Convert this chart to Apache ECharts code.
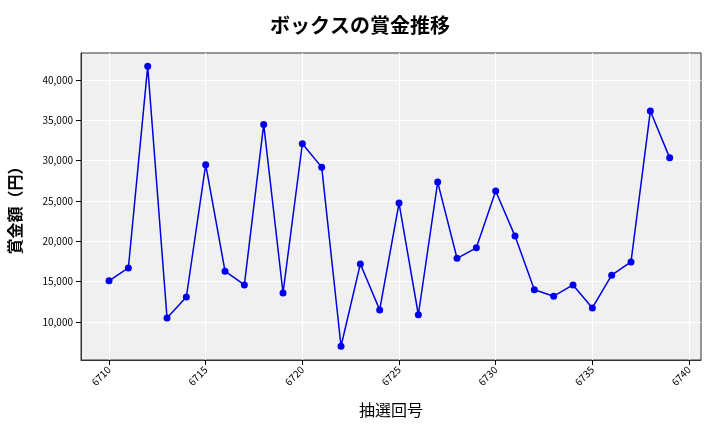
<!DOCTYPE html>
<html><head><meta charset="utf-8">
<script src="https://cdn.jsdelivr.net/npm/echarts@6/dist/echarts.min.js"></script>
<style>html,body{margin:0;padding:0;background:#fff}#c{width:720px;height:432px}</style>
</head><body><div id="c"></div>
<script>
const draws = [6710,6711,6712,6713,6714,6715,6716,6717,6718,6719,6720,6721,6722,6723,6724,6725,6726,6727,6728,6729,6730,6731,6732,6733,6734,6735,6736,6737,6738,6739];
const prizes = [15100,16700,41700,10500,13100,29500,16300,14600,34500,13600,32100,29200,7000,17200,11500,24750,10900,27350,17900,19200,26250,20650,14000,13200,14600,11750,15800,17450,36150,30350];
const xTicks = [6710,6715,6720,6725,6730,6735,6740];
const yTicks = [10000,15000,20000,25000,30000,35000,40000];
const font = '"Noto Sans CJK JP", "Noto Sans", sans-serif';
const chart = echarts.init(document.getElementById('c'));
chart.setOption({
  animation:false,
  title:{text:'ボックスの賞金推移',left:'center',top:10,textStyle:{fontFamily:font,fontSize:20,fontWeight:'bold',color:'#000'}},
  grid:{left:81,right:19,top:53,bottom:72,backgroundColor:'#f0f0f0',show:true,borderWidth:1,borderColor:'#333',containLabel:false,outerBoundsMode:'none'},
  xAxis:{type:'value',min:6708.55,max:6740.62,name:'抽選回号',nameLocation:'middle',nameGap:42,
    nameTextStyle:{fontFamily:font,fontSize:16,color:'#000'},
    axisLine:{show:true,lineStyle:{color:'#333'}},
    axisTick:{show:true,customValues:xTicks,lineStyle:{color:'#000'}},
    axisLabel:{customValues:xTicks,rotate:45,fontSize:10,color:'#000',fontFamily:font,formatter:v=>String(v)},
    splitLine:{show:true,lineStyle:{color:'#fff'}}},
  yAxis:{type:'value',min:5290,max:43350,name:'賞金額（円）',nameLocation:'middle',nameGap:58,
    nameTextStyle:{fontFamily:font,fontSize:16,fontWeight:'bold',color:'#000'},
    axisLine:{show:true,lineStyle:{color:'#333'}},
    axisTick:{show:true,customValues:yTicks,lineStyle:{color:'#000'}},
    axisLabel:{customValues:yTicks,fontSize:10,color:'#000',fontFamily:font,formatter:v=>v.toLocaleString('en-US')},
    splitLine:{show:true,lineStyle:{color:'#fff'}}},
  series:[{type:'line',data:draws.map((d,i)=>[d,prizes[i]]),symbol:'circle',symbolSize:7,
    lineStyle:{color:'#0000dd',width:1.5},itemStyle:{color:'#0000ee'}}]
});
</script></body></html>
